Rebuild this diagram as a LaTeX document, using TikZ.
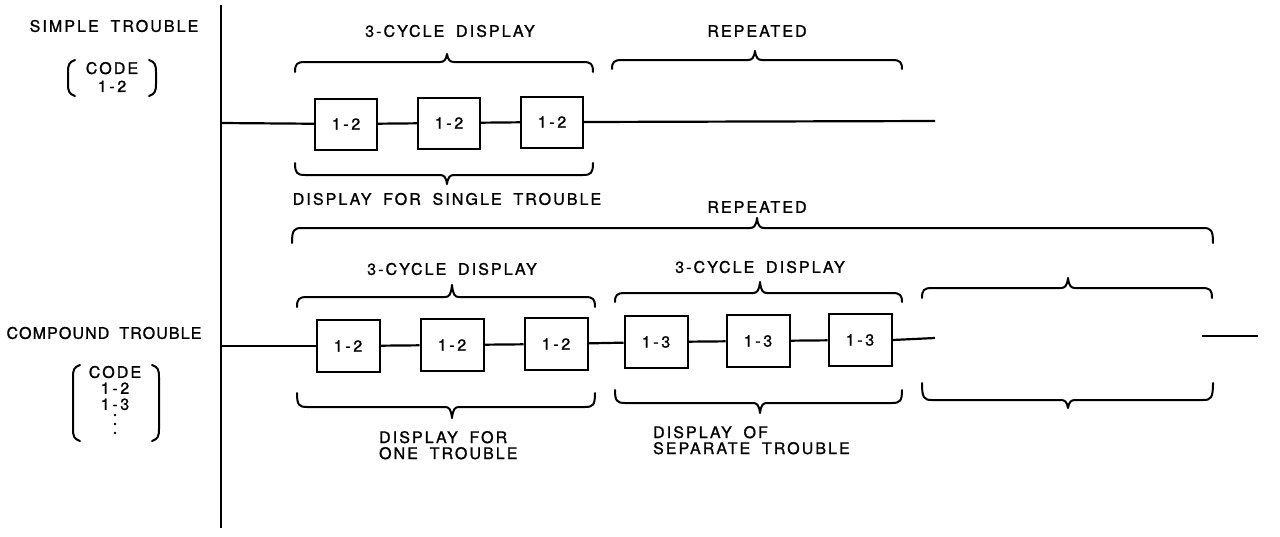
\documentclass[tikz,border=0pt]{standalone}
\usepackage{fontspec}
\setmainfont{TeX Gyre Heros}[LetterSpace=13,WordSpace=1.8,FakeBold=1.2]
\begin{document}
\begin{tikzpicture}[x=1pt,y=-1pt,line width=2.2pt,
  every node/.style={font=\fontsize{16}{18}\selectfont},
  codebox/.style={draw,line width=2pt,minimum width=62pt,minimum height=51pt,inner sep=0pt},
  lbl/.style={inner sep=0pt,align=center},
  brc/.style={line width=2pt,line join=round,line cap=round}]
\useasboundingbox (0,0) rectangle (1280,536);
\newcommand\topbrc[6]{% x1 x2 xm y h t
  \draw[brc] (#1,{#4+#5}) .. controls (#1,{#4+2}) and ({#1+2},#4) .. ({#1+10},#4)
   -- ({#3-7},#4) .. controls ({#3-3},#4) and ({#3-1},{#4-2}) .. (#3,{#4-#6})
   .. controls ({#3+1},{#4-2}) and ({#3+3},#4) .. ({#3+7},#4)
   -- ({#2-10},#4) .. controls ({#2-2},#4) and (#2,{#4+2}) .. (#2,{#4+#5});}
\newcommand\botbrc[6]{% x1 x2 xm y h t
  \draw[brc] (#1,{#4-#5}) .. controls (#1,{#4-2}) and ({#1+2},#4) .. ({#1+10},#4)
   -- ({#3-7},#4) .. controls ({#3-3},#4) and ({#3-1},{#4+2}) .. (#3,{#4+#6})
   .. controls ({#3+1},{#4+2}) and ({#3+3},#4) .. ({#3+7},#4)
   -- ({#2-10},#4) .. controls ({#2-2},#4) and (#2,{#4-2}) .. (#2,{#4-#5});}
\newcommand\lparen[3]{% x ytop ybot
  \draw[brc] ({#1+7},#2) .. controls ({#1+1},{#2+2}) and (#1,{#2+5}) .. (#1,{#2+12})
   -- (#1,{#3-12}) .. controls (#1,{#3-5}) and ({#1+1},{#3-2}) .. ({#1+7},#3);}
\newcommand\rparen[3]{%
  \draw[brc] ({#1-7},#2) .. controls ({#1-1},{#2+2}) and (#1,{#2+5}) .. (#1,{#2+12})
   -- (#1,{#3-12}) .. controls (#1,{#3-5}) and ({#1-1},{#3-2}) .. ({#1-7},#3);}

% vertical axis
\coordinate (vt) at (221,5);
\coordinate (vb) at (221,528);
\draw (vt) -- (vb);

% left labels
\node[lbl] (simple) at (114,26) {SIMPLE TROUBLE};
\node[lbl] (code1) at (112,77) {CODE\\1\,-\,2};
\lparen{68}{60}{96}
\rparen{156}{60}{96}
\node[lbl] (compound) at (104,333) {\addfontfeature{LetterSpace=7}COMPOUND TROUBLE};
\node[lbl] (code2) at (115,388) {CODE\\[-2pt]1\,-\,2\\[-2pt]1\,-\,3};
\fill (115,415) circle (1.4pt) (115,424) circle (1.4pt) (115,433) circle (1.4pt);
\lparen{73}{365}{441}
\rparen{159}{365}{441}

% top row
\coordinate (s1) at (221,123);
\node[codebox] (a1) at (346,124) {1\,-\,2};
\node[codebox] (a2) at (449,123) {1\,-\,2};
\node[codebox] (a3) at (552,122) {1\,-\,2};
\coordinate (e1) at (935,121);
\draw (s1) -- (a1);
\draw (a1) -- (a2);
\draw (a2) -- (a3);
\draw (a3.east) -- (e1);

\topbrc{295}{593}{447}{62}{10}{8}
\node[lbl] (t1) at (450,31) {3-CYCLE DISPLAY};
\topbrc{612}{902}{755}{60}{9}{9}
\node[lbl] (t2) at (757,31) {REPEATED};
\botbrc{295}{593}{447}{175}{12}{9}
\node[lbl] (t3) at (447,199) {DISPLAY FOR SINGLE TROUBLE};

% bottom row
\coordinate (s2) at (221,346);
\node[codebox,minimum width=63pt,minimum height=52pt] (b1) at (348,346) {1\,-\,2};
\node[codebox,minimum width=63pt,minimum height=52pt] (b2) at (452,345) {1\,-\,2};
\node[codebox,minimum width=63pt,minimum height=52pt] (b3) at (556,344) {1\,-\,2};
\node[codebox,minimum width=63pt,minimum height=52pt] (b4) at (656,342) {1\,-\,3};
\node[codebox,minimum width=63pt,minimum height=52pt] (b5) at (758,341) {1\,-\,3};
\node[codebox,minimum width=63pt,minimum height=52pt] (b6) at (860,340) {1\,-\,3};
\coordinate (e2) at (935,338);
\coordinate (f1) at (1202,336);
\coordinate (f2) at (1258,336);
\draw (s2) -- (b1);
\draw (b1) -- (b2);
\draw (b2) -- (b3);
\draw (b3) -- (b4);
\draw (b4) -- (b5);
\draw (b5) -- (b6);
\draw (b6.east) -- (e2);
\draw (f1) -- (f2);

\topbrc{292}{1213}{757}{228}{15}{10}
\node[lbl] (t4) at (757,207) {REPEATED};
\topbrc{297}{595}{452}{297}{10}{12}
\node[lbl] (t5) at (452,269) {3-CYCLE DISPLAY};
\topbrc{615}{902}{760}{293}{9}{11}
\node[lbl] (t6) at (760,267) {3-CYCLE DISPLAY};
\topbrc{922}{1212}{1068}{288}{10}{10}
\botbrc{297}{595}{452}{407}{14}{11}
\node[lbl,align=left,anchor=north west] (t7) at (378,430) {DISPLAY FOR\\[-2pt]ONE TROUBLE};
\botbrc{615}{902}{760}{403}{13}{10}
\node[lbl,align=left,anchor=north west] (t8) at (652,425) {DISPLAY OF\\[-2pt]SEPARATE TROUBLE};
\botbrc{922}{1213}{1068}{400}{17}{8}
\end{tikzpicture}
\end{document}
